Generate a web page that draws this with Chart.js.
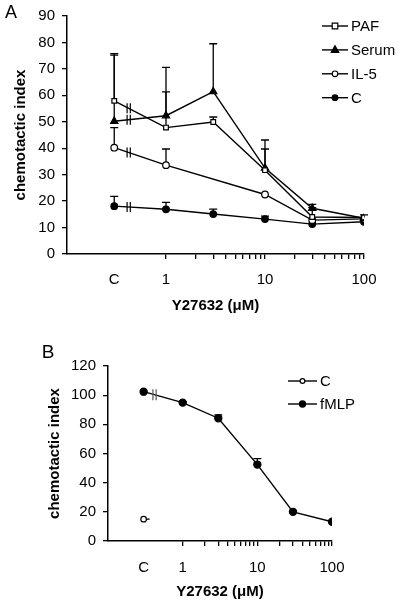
<!DOCTYPE html>
<html>
<head>
<meta charset="utf-8">
<script src="https://cdn.jsdelivr.net/npm/chart.js@4/dist/chart.umd.min.js"></script>
<style>
html,body{margin:0;padding:0;background:#fff;}
#wrap{position:relative;width:400px;height:605px;overflow:hidden;}
#cA{position:absolute;left:0;top:0;}
#cB{position:absolute;left:0;top:325px;}
</style>
</head>
<body>
<div id="wrap">
<canvas id="cA" width="400" height="325"></canvas>
<canvas id="cB" width="400" height="280"></canvas>
</div>
<script>
// ---------- Data: panel A ----------
const concA     = [0.3, 1, 3, 10, 30, 100];
const pafA      = [57.9, 47.8, 49.9, 31.7, 14.0, 13.8];
const pafErrA   = [75.8, 61.3, 51.8, 39.7, 17.5, 14.8];
const serumA    = [50.2, 52.3, 61.4, 32.5, 17.3, 13.5];
const serumErrA = [75.2, 70.6, 79.5, 43.1, 18.8, null];
const il5Conc   = [0.3, 1, 10, 30, 100];
const il5A      = [40.2, 33.6, 22.5, 12.8, 13.3];
const il5ErrA   = [47.8, 39.7, null, null, null];
const ctrlA     = [18.1, 16.9, 15.1, 13.2, 11.3, 12.2];
const ctrlErrA  = [21.8, 19.5, 17.0, 14.3, null, null];

// ---------- Data: panel B ----------
const concB     = [0.3, 1, 3, 10, 30, 100];
const fmlpB     = [102.4, 94.9, 84.2, 52.4, 20.0, 13.2];
const fmlpErrB  = [null, 95.6, 86.5, 56.5, null, null];
const ctrlConcB = [0.3];
const ctrlB     = [15.0];

// ---------- Ticks ----------
const xTickValues   = [0.3, 1,2,3,4,5,6,7,8,9, 10,20,30,40,50,60,70,80,90, 100];
const xLabelValues  = [0.3, 1, 10, 100];
const xLabelTexts   = ['C', '1', '10', '100'];
const yTicksA = {min: 0, max: 90, step: 10};
const yTicksB = {min: 0, max: 120, step: 20};
const breakValue = 0.42;

const FONT = "'Liberation Sans', Arial, sans-serif";
Chart.defaults.font.family = FONT;
Chart.defaults.font.size = 15;
Chart.defaults.color = '#000';

function pts(xs, ys){ return xs.map((x,i)=>({x:x, y:ys[i]})); }

function drawMarker(ctx, style, x, y, r, fill){
  ctx.save();
  ctx.beginPath();
  if(style==='rect'){
    ctx.rect(x-r, y-r, 2*r, 2*r);
  } else if(style==='triangle'){
    ctx.moveTo(x, y-r*1.15);
    ctx.lineTo(x+r*1.05, y+r*0.7);
    ctx.lineTo(x-r*1.05, y+r*0.7);
    ctx.closePath();
  } else {
    ctx.arc(x, y, r, 0, Math.PI*2);
  }
  ctx.fillStyle = fill;
  ctx.fill();
  ctx.lineWidth = 1.2;
  ctx.strokeStyle = '#000';
  ctx.stroke();
  ctx.restore();
}

function makeDeco(cfg){
  return {
    id: 'deco',
    beforeDatasetsDraw(chart){
      const ctx = chart.ctx, ys = chart.scales.y;
      ctx.save();
      ctx.strokeStyle = '#000';
      ctx.lineWidth = 1.3;
      chart.data.datasets.forEach((ds, i)=>{
        if(!ds.errUp) return;
        const meta = chart.getDatasetMeta(i);
        ds.errUp.forEach((e, j)=>{
          if(e==null) return;
          const p = meta.data[j];
          const y1 = ys.getPixelForValue(e);
          ctx.beginPath();
          ctx.moveTo(p.x, p.y); ctx.lineTo(p.x, y1);
          ctx.moveTo(p.x-4, y1); ctx.lineTo(p.x+4, y1);
          ctx.stroke();
        });
      });
      // short tail on single-point series
      chart.data.datasets.forEach((ds, i)=>{
        if(!ds.tail) return;
        const p = chart.getDatasetMeta(i).data[0];
        ctx.beginPath(); ctx.moveTo(p.x, p.y); ctx.lineTo(p.x+6, p.y); ctx.stroke();
      });
      ctx.restore();
    },
    afterDatasetsDraw(chart){
      const ctx = chart.ctx, xs = chart.scales.x;
      const px = xs.getPixelForValue(breakValue);
      ctx.save();
      ctx.strokeStyle = cfg.breakColor;
      ctx.lineWidth = 1.2;
      chart.data.datasets.forEach((ds, i)=>{
        if(!ds.hasBreak) return;
        const meta = chart.getDatasetMeta(i);
        const p0 = meta.data[0], p1 = meta.data[1];
        if(!p0 || !p1) return;
        const t = (px - p0.x)/(p1.x - p0.x);
        const y = p0.y + t*(p1.y - p0.y);
        ctx.beginPath();
        ctx.moveTo(px-1.6, y-cfg.breakH); ctx.lineTo(px-1.6, y+cfg.breakH);
        ctx.moveTo(px+1.6, y-cfg.breakH); ctx.lineTo(px+1.6, y+cfg.breakH);
        ctx.stroke();
      });
      ctx.restore();
    },
    afterDraw(chart){
      const ctx = chart.ctx, ca = chart.chartArea;
      ctx.save();
      // legend
      ctx.font = cfg.legendSize + 'px ' + FONT;
      ctx.textBaseline = 'middle';
      ctx.textAlign = 'left';
      cfg.legendOrder.forEach((di, k)=>{
        const ds = chart.data.datasets[di];
        const y = cfg.legY0 + k*cfg.legDy;
        ctx.strokeStyle = '#000'; ctx.lineWidth = 1.4;
        ctx.beginPath(); ctx.moveTo(cfg.legX1, y); ctx.lineTo(cfg.legX2, y); ctx.stroke();
        drawMarker(ctx, ds.pointStyle, (cfg.legX1+cfg.legX2)/2, y, ds.pointRadius*0.85, ds.pointBackgroundColor);
        ctx.fillStyle = '#000';
        ctx.fillText(ds.label, cfg.legTx, y+1);
      });
      // panel letter
      ctx.font = cfg.letterSize + 'px ' + FONT;
      ctx.textAlign = 'center';
      ctx.fillText(cfg.letter, cfg.letterX, cfg.letterY);
      // axis titles
      ctx.font = 'bold 15px ' + FONT;
      ctx.fillText(cfg.xTitle, (ca.left+ca.right)/2, cfg.xTitleY);
      ctx.translate(cfg.yTitleX, (ca.top+ca.bottom)/2);
      ctx.rotate(-Math.PI/2);
      ctx.fillText(cfg.yTitle, 0, 0);
      ctx.restore();
    }
  };
}

function xScale(height, padding){
  return {
    type: 'logarithmic', min: 0.1, max: 100,
    afterFit(s){ s.height = height; },
    afterBuildTicks(s){ s.ticks = xTickValues.map(v=>({value:v})); },
    border: {color:'#000', width:1.5},
    grid: {
      drawOnChartArea:false, tickLength:5, lineWidth:1.3,
      color: c => (c.tick && c.tick.value===0.3) ? 'rgba(0,0,0,0)' : '#000',
      tickColor: c => (c.tick && c.tick.value===0.3) ? 'rgba(0,0,0,0)' : '#000'
    },
    ticks: {
      autoSkip:false, maxRotation:0, padding: padding, color:'#000',
      font:{size:15},
      callback: function(v){
        const idx = xLabelValues.findIndex(t => Math.abs(t - v) < 1e-9);
        return idx >= 0 ? xLabelTexts[idx] : '';
      }
    }
  };
}

function yScale(width, t, padding){
  return {
    type:'linear', min:t.min, max:t.max,
    afterFit(s){ s.width = width; },
    border: {color:'#000', width:1.5},
    grid: {drawOnChartArea:false, tickLength:5, lineWidth:1.3, color:'#000'},
    ticks: {stepSize:t.step, padding:padding, color:'#000', font:{size:15}}
  };
}

function lineDs(label, xs, ys, err, style, fill, r, brk){
  return {
    label: label, data: pts(xs, ys), errUp: err, hasBreak: brk,
    borderColor:'#000', borderWidth:1.4, tension:0, showLine:true,
    pointStyle: style, pointRadius: r, pointHoverRadius: r,
    pointBackgroundColor: fill, pointBorderColor:'#000', pointBorderWidth:1.2
  };
}

// ---------- Chart A ----------
new Chart(document.getElementById('cA'), {
  type: 'scatter',
  data: { datasets: [
    lineDs('PAF',   concA,   pafA,   pafErrA,   'rect',     '#fff', 3.3, true),
    lineDs('Serum', concA,   serumA, serumErrA, 'triangle', '#000', 4.2, true),
    lineDs('IL-5',  il5Conc, il5A,   il5ErrA,   'circle',   '#fff', 3.3, true),
    lineDs('C',     concA,   ctrlA,  ctrlErrA,  'circle',   '#000', 3.3, true)
  ]},
  options: {
    responsive:false, animation:false,
    layout:{padding:{top:11, right:36, left:0, bottom:0}},
    plugins:{legend:{display:false}, tooltip:{enabled:false}},
    scales:{ x: xScale(71, 12), y: yScale(67, yTicksA, 7) }
  },
  plugins:[makeDeco({
    legendOrder:[0,1,2,3], legX1:322, legX2:348, legTx:351, legY0:26, legDy:23.9, legendSize:15,
    letter:'A', letterX:11, letterY:13, letterSize:18,
    xTitle:'Y27632 (\u03BCM)', xTitleY:306, yTitle:'chemotactic index', yTitleX:21,
    breakColor:'#000', breakH:5
  })]
});

// ---------- Chart B ----------
const dsCtrlB = lineDs('C', ctrlConcB, ctrlB, null, 'circle', '#fff', 2.8, false);
dsCtrlB.tail = true;
new Chart(document.getElementById('cB'), {
  type: 'scatter',
  data: { datasets: [
    dsCtrlB,
    lineDs('fMLP', concB, fmlpB, fmlpErrB, 'circle', '#000', 3.6, true)
  ]},
  options: {
    responsive:false, animation:false,
    layout:{padding:{top:41, right:68, left:0, bottom:0}},
    plugins:{legend:{display:false}, tooltip:{enabled:false}},
    scales:{ x: xScale(64, 13), y: yScale(108, yTicksB, 7) }
  },
  plugins:[makeDeco({
    legendOrder:[0,1], legX1:288, legX2:317, legTx:320, legY0:56, legDy:23, legendSize:15,
    letter:'B', letterX:48, letterY:28, letterSize:19,
    xTitle:'Y27632 (\u03BCM)', xTitleY:267, yTitle:'chemotactic index', yTitleX:55,
    breakColor:'#555', breakH:5.5
  })]
});
</script>
</body>
</html>
